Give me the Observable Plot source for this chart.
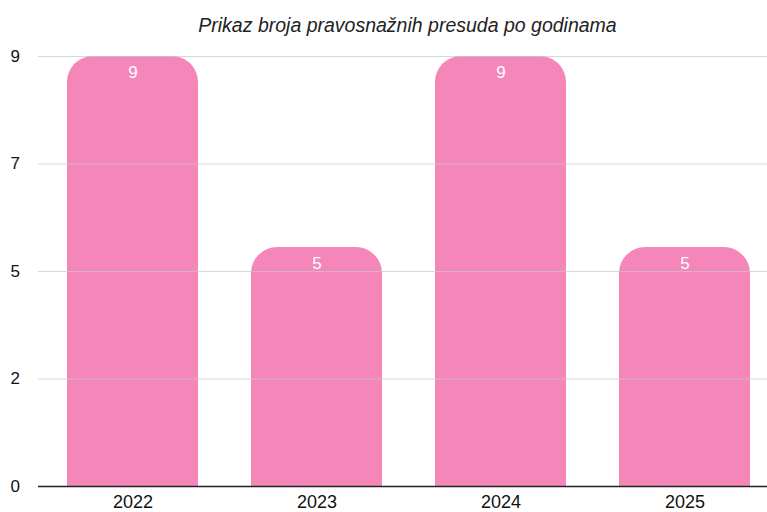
<!DOCTYPE html>
<html>
<head>
<meta charset="utf-8">
<script src="https://cdn.jsdelivr.net/npm/d3@7"></script>
<script src="https://cdn.jsdelivr.net/npm/@observablehq/plot@0.6"></script>
<style>
  html, body { margin: 0; padding: 0; background: #fff; }
  #title { height: 40px; box-sizing: border-box; padding-top: 14px; padding-left: 48px; text-align: center;
    font-family: "Liberation Sans", Arial, sans-serif; font-style: italic; font-size: 19.5px; color: #222; line-height: 22px; }
  #chart svg text { font-size: 17px; }
  #chart svg g.xaxis text { font-size: 18px; }
</style>
</head>
<body>
<div id="title">Prikaz broja pravosnažnih presuda po godinama</div>
<div id="chart"></div>
<script>
const years = ["2022", "2023", "2024", "2025"];
const counts = [9, 5, 9, 5];
const yTicks = [0, 2.25, 4.5, 6.75, 9];
const yTickLabels = ["0", "2", "5", "7", "9"];

const data = years.map((year, i) => ({ year, count: counts[i] }));
const pink = "#F486BA";

const plot = Plot.plot({
  width: 767,
  height: 472,
  marginTop: 16,
  marginBottom: 26,
  marginLeft: 38,
  marginRight: 0,
  style: { fontFamily: "Liberation Sans, Arial, sans-serif", fontSize: "17px", background: "white" },
  x: { domain: years, padding: 0.286, paddingOuter: 0.117, align: 0.63, label: null },
  y: { domain: [0, 9], label: null },
  marks: [
    Plot.barY(data, { x: "year", y: "count", fill: pink, rx: 26 }),
    Plot.barY(data, { x: "year", y1: 0, y2: d => d.count / 2, fill: pink }),
    Plot.ruleY(yTicks.filter(t => t > 0), { stroke: "#c8c8c8", strokeWidth: 1, strokeOpacity: 0.7 }),
    Plot.ruleY([0], { stroke: "#222", strokeWidth: 1.5 }),
    Plot.axisY({ ticks: yTicks, tickFormat: d => yTickLabels[yTicks.indexOf(d)], tickSize: 0,
      textAnchor: "start", dx: -19, fill: "#111" }),
    Plot.axisX({ tickSize: 0, fill: "#111", tickPadding: 9 }),
    Plot.text(data, { x: "year", y: "count", text: d => String(d.count), dy: 16, fill: "white" })
  ]
});
plot.querySelectorAll("[aria-label='x-axis tick label']").forEach(g => g.classList.add("xaxis"));
document.getElementById("chart").appendChild(plot);
</script>
</body>
</html>
